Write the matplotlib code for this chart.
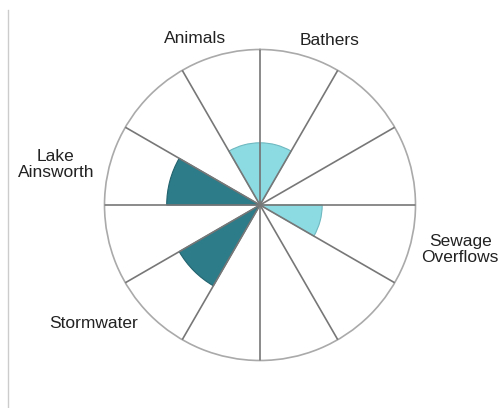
import numpy as np
import matplotlib
matplotlib.use("Agg")
import matplotlib.pyplot as plt
from matplotlib.lines import Line2D

# sectors clockwise from 12 o'clock, 30 degrees each
categories = ["Bathers", "", "", "Sewage\nOverflows", "", "", "",
              "Stormwater", "", "Lake\nAinsworth", "", "Animals"]
values = [2, 0, 0, 2, 0, 0, 0, 3, 0, 3, 0, 2]
groups = ["light", None, None, "light", None, None, None,
          "dark", None, "dark", None, "light"]
r_max = 5

colors = {"light": "#8cdbe3", "dark": "#2c7c89"}
edges = {"light": "#6fb8c0", "dark": "#23636e"}

# label placement (degrees clockwise from north, radius in data units)
label_pos = {
    "Bathers": (22.9, 5.74),
    "Sewage\nOverflows": (102.5, 6.59),
    "Stormwater": (234.6, 6.57),
    "Lake\nAinsworth": (281.2, 6.69),
    "Animals": (338.7, 5.76),
}

plt.rcParams['font.family'] = ['Liberation Sans', 'DejaVu Sans']

fig = plt.figure(figsize=(5.0, 4.08), dpi=100)
fig.patch.set_facecolor('white')

# thin grey rule at the left edge
fig.add_artist(Line2D([8 / 500, 8 / 500], [0, 398 / 408], color='#cccccc', lw=1))

cx, cy, R = 260, 205, 155.5
ax = fig.add_axes([(cx - R) / 500, (408 - cy - R) / 408, 2 * R / 500, 2 * R / 408],
                  projection='polar')
ax.set_theta_zero_location('N')
ax.set_theta_direction(-1)

n = len(categories)
width = 2 * np.pi / n
theta = np.arange(n) * width + width / 2

for t, v, g in zip(theta, values, groups):
    if v > 0:
        ax.bar(t, v, width=width, align='center', color=colors[g],
               edgecolor=edges[g], linewidth=0.8, zorder=2)

ax.set_ylim(0, r_max)
ax.set_yticks([])
ax.set_xticks(np.arange(n) * width)
ax.set_xticklabels([])
ax.xaxis.grid(True, color='#777777', linewidth=1.2, zorder=3)
ax.set_axisbelow(False)
ax.spines['polar'].set_color('#aaaaaa')
ax.spines['polar'].set_linewidth(1.2)

for name, (deg, r) in label_pos.items():
    ax.text(np.deg2rad(deg), r, name, ha='center', va='center',
            fontsize=12.5, color='#222222', clip_on=False, linespacing=1.05)

fig.savefig('out.png', dpi=100, facecolor='white')
